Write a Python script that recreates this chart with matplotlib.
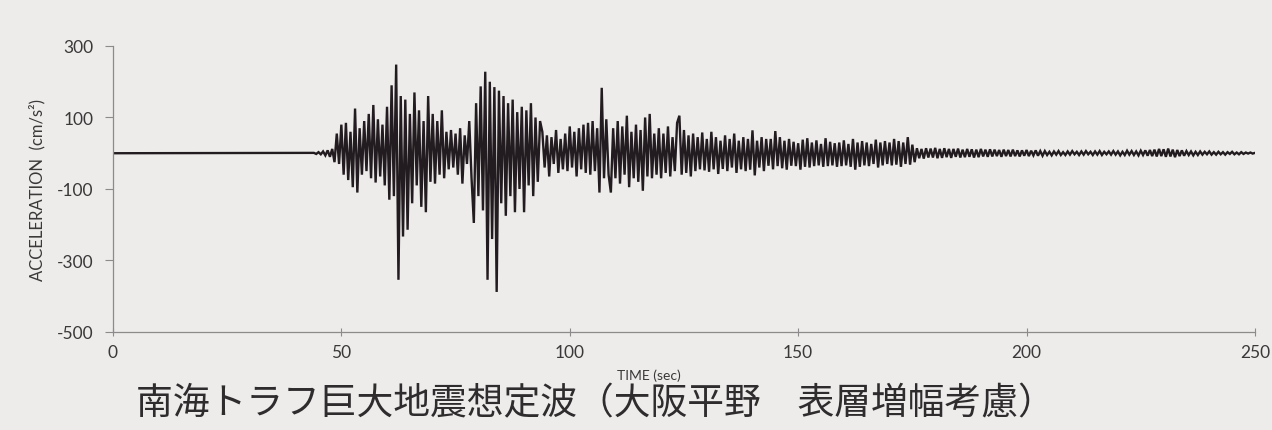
"""
Nankai Trough design ground motion (Osaka plain, with surface amplification).
Draws the acceleration time history and saves it as out.png.
"""

import matplotlib.pyplot as plt
import numpy as np

# --------- Data ---------
# Acceleration record (cm/s^2). The record is flat until ONSET_SEC, after that
# peaks/troughs are listed every STEP_SEC seconds, one row = 5 seconds.
ONSET_SEC = 44.0
STEP_SEC = 0.5
ACCEL = [
    1, -2, 3, -3, 5, -6, 8, -10, 12, -25,                 # 44
    55, -30, 80, -60, 85, -75, 60, -95, 125, -110,        # 49
    70, -60, 90, -50, 110, -70, 135, -82, 95, -65,        # 54
    80, -90, 130, -130, 190, -120, 248, -354, 160, -233,  # 59
    150, -214, 110, -140, 170, -90, 120, -150, 90, -165,  # 64
    160, -80, 110, -85, 90, -60, 120, -70, 60, -45,       # 69
    65, -40, 55, -60, 70, -85, 50, -30, 90, -70,          # 74
    -195, 140, -120, 187, -160, 228, -354, 200, -240, 185,  # 79
    -388, 175, -140, 160, -175, 140, -120, 150, -165, 115,  # 84
    -100, 130, -165, 120, -90, 140, -120, 100, -80, 90,   # 89
    60, -40, 50, -65, 45, -30, 65, -55, 40, -45,          # 94
    55, -50, 75, -40, 60, -65, 70, -45, 80, -55,          # 99
    85, -60, 90, -50, 70, -110, 183, -70, 95, -60,        # 104
    -110, 70, -70, 90, -85, 75, -60, 105, -95, 60,        # 109
    -70, 80, -80, 65, -105, 100, -65, 110, -70, 55,       # 114
    -60, 70, -70, 55, -55, 75, -65, 45, -50, 85,          # 119
    105, -60, 65, -55, 50, -65, 55, -50, 45, -45,         # 124
    58, -48, 40, -52, 60, -45, 45, -58, 35, -44,          # 129
    50, -50, 40, -40, 55, -55, 35, -45, 45, -50,          # 134
    40, -46, 64, -62, 35, -40, 45, -50, 40, -35,          # 139
    40, -45, 62, -36, 45, -42, 35, -46, 40, -35,          # 144
    32, -36, 28, -46, 38, -38, 42, -40, 30, -36,          # 149
    36, -34, 26, -38, 42, -36, 32, -34, 28, -38,          # 154
    30, -36, 36, -34, 26, -38, 40, -46, 30, -38,          # 159
    34, -34, 30, -36, 26, -30, 38, -40, 30, -34,          # 164
    34, -30, 30, -34, 40, -32, 34, -38, 30, -30,          # 169
    45, -32, 24, -25, 14, -14, 12, -15, 14, -12,          # 174
    13, -12, 15, -14, 12, -13, 14, -11, 12, -13,          # 179
    12, -10, 13, -12, 10, -11, 12, -10, 11, -12,          # 184
    10, -11, 12, -9, 10, -10, 11, -9, 10, -8,             # 189
    9, -10, 10, -8, 9, -9, 10, -8, 8, -9,                 # 194
    8, -7, 9, -8, 7, -6, 8, -7, 6, -7,                    # 199
    6, -5, 4, -6, 5, -4, 6, -5, 3, -5,                    # 204
    5, -4, 6, -3, 4, -5, 5, -4, 6, -3,                    # 209
    4, -5, 5, -4, 6, -5, 4, -3, 5, -4,                    # 214
    6, -4, 5, -6, 4, -5, 7, -4, 6, -5,                    # 219
    5, -6, 7, -5, 8, -7, 9, -8, 10, -9,                   # 224
    12, -8, 11, -10, 13, -9, 10, -11, 9, -8,              # 229
    8, -7, 6, -5, 5, -6, 4, -5, 5, -4,                    # 234
    4, -3, 5, -4, 3, -4, 4, -3, 3, -4,                    # 239
    3, -2, 4, -3, 2, -3, 3, -2, 2, -1,                    # 244
    2, -1, 1,                                             # 249
]

X_TICKS = [0, 50, 100, 150, 200, 250]
Y_TICKS = [300, 100, -100, -300, -500]

TITLE = "南海トラフ巨大地震想定波（大阪平野　表層増幅考慮）"
X_LABEL = "TIME (sec)"
Y_LABEL = "ACCELERATION  (cm/s\u00b2)"

PAPER = "#eeeceb"
INK = "#221b1f"
AXIS_GREY = "#8c8a8a"
TEXT_GREY = "#3a3838"


def build_series():
    acc = np.asarray(ACCEL, dtype=float)
    t = ONSET_SEC + STEP_SEC * np.arange(len(acc))
    # quiet part of the record before the onset
    t = np.concatenate([[0.0], t])
    acc = np.concatenate([[0.0], acc])
    return t, acc


def main():
    plt.rcParams["font.family"] = ["Lato", "DejaVu Sans"]
    plt.rcParams["axes.unicode_minus"] = False

    fig = plt.figure(figsize=(12.72, 4.31), dpi=100, facecolor=PAPER)
    ax = fig.add_axes([0.0888, 0.2274, 0.8978, 0.6636], facecolor=PAPER)

    t, acc = build_series()
    ax.plot(t, acc, color=INK, lw=1.7, solid_joinstyle="miter")

    ax.set_xlim(0, 250)
    ax.set_ylim(-500, 300)
    ax.set_xticks(X_TICKS)
    ax.set_yticks(Y_TICKS)

    for side in ("top", "right"):
        ax.spines[side].set_visible(False)
    for side in ("left", "bottom"):
        ax.spines[side].set_color(AXIS_GREY)
        ax.spines[side].set_linewidth(0.9)

    ax.tick_params(axis="y", direction="out", length=6, width=0.8,
                   color=AXIS_GREY, labelcolor=TEXT_GREY, labelsize=12.5, pad=8)
    ax.tick_params(axis="x", direction="inout", length=6, width=0.8,
                   color=AXIS_GREY, labelcolor=TEXT_GREY, labelsize=12.5, pad=6)

    ax.set_ylabel(Y_LABEL, fontsize=12, color=TEXT_GREY, labelpad=8)

    fig.text(0.51, 0.128, X_LABEL, fontsize=10, color=TEXT_GREY,
             ha="center", va="center")
    fig.text(0.107, 0.063, TITLE, fontsize=26.5, color="#2e2c2d",
             ha="left", va="center",
             family=["Noto Sans CJK JP", "DejaVu Sans"])

    fig.savefig("out.png", dpi=100, facecolor=PAPER)
    plt.close(fig)


if __name__ == "__main__":
    main()
